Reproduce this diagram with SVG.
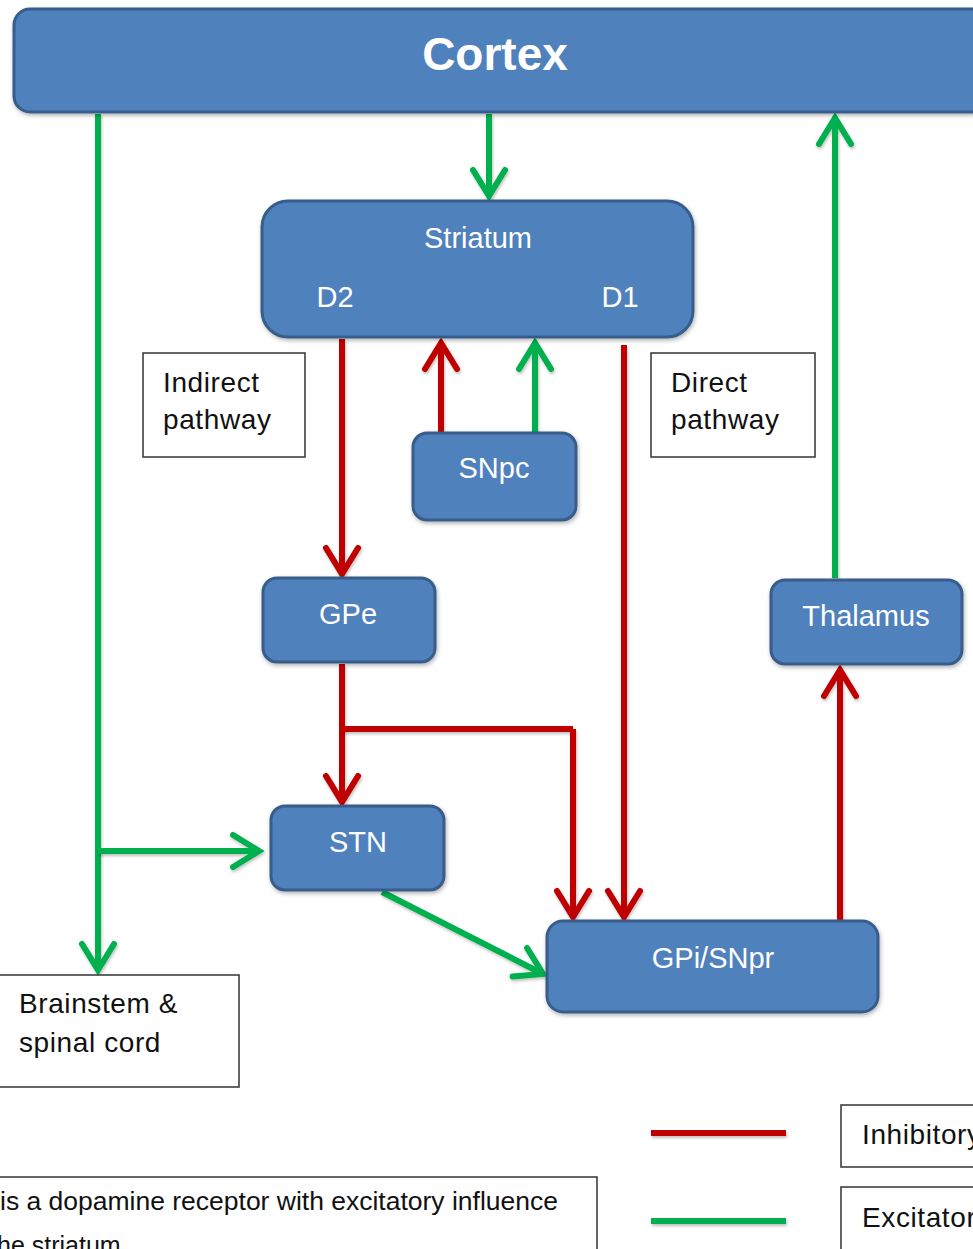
<svg xmlns="http://www.w3.org/2000/svg" width="973" height="1249" viewBox="0 0 973 1249">
  <defs>
    <style>
      .node { fill: #4F81BD; stroke: #385D8A; stroke-width: 3; filter: url(#shadow); }
      .lbl { font-family: "Liberation Sans", Arial, sans-serif; font-size: 29px; fill: #ffffff; text-anchor: middle; }
      .box { fill: #ffffff; stroke: #333333; stroke-width: 1.5; }
      .txt { font-family: "Liberation Sans", Arial, sans-serif; font-size: 28px; letter-spacing: 0.6px; fill: #111111; }
      .inh { fill: none; stroke: #C00000; stroke-width: 6; marker-end: url(#headRed); filter: url(#lineShadow); }
      .exc { fill: none; stroke: #00B050; stroke-width: 6; marker-end: url(#headGreen); filter: url(#lineShadow); }
      .plainInh { fill: none; stroke: #C00000; stroke-width: 6; filter: url(#lineShadow); }
      .plainExc { fill: none; stroke: #00B050; stroke-width: 6; filter: url(#lineShadow); }
    </style>
    <filter id="shadow" x="-10%" y="-10%" width="120%" height="130%">
      <feDropShadow dx="1" dy="2" stdDeviation="2" flood-color="#000000" flood-opacity="0.3"/>
    </filter>
    <!-- user-space region so straight horizontal/vertical strokes keep their shadow -->
    <filter id="lineShadow" filterUnits="userSpaceOnUse" x="-20" y="-20" width="1013" height="1289">
      <feDropShadow dx="1" dy="2" stdDeviation="1.5" flood-color="#000000" flood-opacity="0.25"/>
    </filter>
    <marker id="headRed" markerUnits="userSpaceOnUse" viewBox="-32 -22 38 44" markerWidth="38" markerHeight="44" refX="0" refY="0" orient="auto">
      <path d="M -26 -16 L 0 0 L -26 16" fill="none" stroke="#C00000" stroke-width="6" stroke-linecap="round" stroke-linejoin="miter"/>
    </marker>
    <marker id="headGreen" markerUnits="userSpaceOnUse" viewBox="-32 -22 38 44" markerWidth="38" markerHeight="44" refX="0" refY="0" orient="auto">
      <path d="M -26 -16 L 0 0 L -26 16" fill="none" stroke="#00B050" stroke-width="6" stroke-linecap="round" stroke-linejoin="miter"/>
    </marker>
  </defs>

  <rect width="973" height="1249" fill="#ffffff"/>

  <!-- pathway connectors -->
  <g id="connectors">
    <!-- cortex to striatum -->
    <path class="exc" d="M 489 114 L 489 196"/>
    <!-- cortex descending to brainstem, with branch to STN -->
    <path class="exc" d="M 98 114 L 98 970"/>
    <path class="exc" d="M 98 851 L 259 851"/>
    <!-- thalamus back to cortex -->
    <path class="exc" d="M 835 578 L 835 118"/>
    <!-- SNpc to striatum -->
    <path class="inh" d="M 441 432 L 441 343"/>
    <path class="exc" d="M 535 432 L 535 343"/>
    <!-- indirect: D2 to GPe -->
    <path class="inh" d="M 342 339 L 342 574"/>
    <!-- GPe to STN and GPe to GPi/SNpr -->
    <path class="inh" d="M 342 664 L 342 802"/>
    <path class="plainInh" d="M 342 729 L 573 729"/>
    <path class="inh" d="M 573 729 L 573 917"/>
    <!-- direct: D1 to GPi/SNpr -->
    <path class="inh" d="M 624 345 L 624 917"/>
    <!-- STN to GPi/SNpr -->
    <path class="exc" d="M 382 892 L 543 974"/>
    <!-- GPi/SNpr to thalamus -->
    <path class="inh" d="M 840 920 L 840 670"/>
  </g>

  <g id="cortex">
    <rect class="node" x="14" y="9" width="975" height="103" rx="16"/>
    <text x="495" y="70" font-family="Liberation Sans, Arial, sans-serif" font-size="46" font-weight="bold" fill="#ffffff" text-anchor="middle">Cortex</text>
  </g>

  <g id="striatum">
    <rect class="node" x="262" y="201" width="431" height="136" rx="26"/>
    <text class="lbl" x="478" y="248">Striatum</text>
    <text class="lbl" x="335" y="307">D2</text>
    <text class="lbl" x="620" y="307">D1</text>
  </g>

  <g id="indirect-label">
    <rect class="box" x="143" y="353" width="162" height="104"/>
    <text class="txt" x="163" y="392">Indirect</text>
    <text class="txt" x="163" y="429">pathway</text>
  </g>

  <g id="direct-label">
    <rect class="box" x="651" y="353" width="164" height="104"/>
    <text class="txt" x="671" y="392">Direct</text>
    <text class="txt" x="671" y="429">pathway</text>
  </g>

  <g id="snpc">
    <rect class="node" x="413" y="433" width="163" height="87" rx="14"/>
    <text class="lbl" x="494" y="478">SNpc</text>
  </g>

  <g id="gpe">
    <rect class="node" x="263" y="578" width="172" height="84" rx="14"/>
    <text class="lbl" x="348" y="624">GPe</text>
  </g>

  <g id="thalamus">
    <rect class="node" x="771" y="580" width="191" height="84" rx="14"/>
    <text class="lbl" x="866" y="626">Thalamus</text>
  </g>

  <g id="stn">
    <rect class="node" x="271" y="806" width="173" height="84" rx="14"/>
    <text class="lbl" x="358" y="852">STN</text>
  </g>

  <g id="gpi-snpr">
    <rect class="node" x="547" y="921" width="331" height="91" rx="16"/>
    <text class="lbl" x="713" y="968">GPi/SNpr</text>
  </g>

  <g id="brainstem">
    <rect class="box" x="-1" y="975" width="240" height="112"/>
    <text class="txt" x="19" y="1013">Brainstem &amp;</text>
    <text class="txt" x="19" y="1052">spinal cord</text>
  </g>

  <g id="legend">
    <line class="plainInh" x1="651" y1="1133" x2="786" y2="1133"/>
    <line class="plainExc" x1="651" y1="1221" x2="786" y2="1221"/>
    <rect class="box" x="841" y="1105" width="150" height="62"/>
    <text class="txt" x="862" y="1144">Inhibitory</text>
    <rect class="box" x="841" y="1187" width="150" height="80"/>
    <text class="txt" x="862" y="1227">Excitatory</text>
  </g>

  <g id="note">
    <rect class="box" x="-2" y="1177" width="599" height="90"/>
    <text x="0" y="1210" font-family="Liberation Sans, Arial, sans-serif" font-size="25" fill="#111111" textLength="558" lengthAdjust="spacingAndGlyphs">is a dopamine receptor with excitatory influence</text>
    <text x="-3" y="1254" font-family="Liberation Sans, Arial, sans-serif" font-size="25" fill="#111111">he striatum</text>
  </g>
</svg>
